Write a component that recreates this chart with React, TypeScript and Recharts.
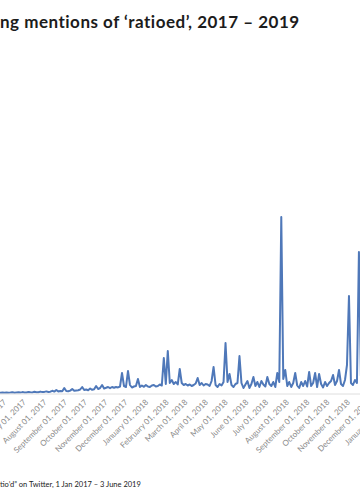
/**
 * Ratioed mentions — daily-ish line of tweets mentioning "ratio'd",
 * cropped view (the frame only shows mid-2017 to late 2018).
 */

import { Line, LineChart, XAxis, YAxis } from "recharts";

// ── Data ────────────────────────────────────────────────────────────────────
const rangeStart = "2017-01-01";
const rangeEnd = "2019-06-03";

// first point of the series and spacing between samples (days)
const seriesStart = "2017-05-19";
const stepDays = 3;

// mentions per sample
const mentions = [
  12, 14, 11, 13, 15, 12, 16, 13, 14, 18,
  13, 15, 17, 14, 19, 16, 15, 20, 17, 16,
  22, 18, 17, 24, 19, 21, 26, 20, 23, 32,
  24, 40, 26, 30, 28, 60, 30, 28, 34, 50,
  32, 35, 38, 45, 70, 40, 45, 38, 55, 42,
  48, 80, 50, 60, 90, 55, 62, 70, 58, 70,
  62, 70, 66, 75, 210, 80, 70, 230, 90, 65,
  75, 80, 150, 70, 85, 72, 90, 75, 70, 85,
  90, 75, 80, 95, 85, 360, 100, 430, 110, 140,
  100, 120, 95, 250, 110, 90, 100, 85, 95, 80,
  90, 105, 160, 90, 110, 85, 100, 95, 80, 130,
  270, 90, 70, 100, 85, 120, 510, 120, 200, 90,
  70, 100, 110, 380, 110, 60, 95, 130, 60, 100,
  170, 80, 120, 70, 130, 95, 75, 170, 100, 80,
  120, 70, 210, 120, 1770, 150, 240, 80, 120, 70,
  110, 210, 85, 60, 120, 80, 130, 75, 220, 80,
  110, 210, 70, 200, 100, 65, 120, 80, 110, 130,
  190, 90, 130, 240, 100, 80, 140, 290, 980, 110,
  90, 140, 110, 1420, 180, 120,
];

const tickMonths = [
  "2017-01-01", "2017-02-01", "2017-03-01", "2017-04-01", "2017-05-01", "2017-06-01",
  "2017-07-01", "2017-08-01", "2017-09-01", "2017-10-01", "2017-11-01", "2017-12-01",
  "2018-01-01", "2018-02-01", "2018-03-01", "2018-04-01", "2018-05-01", "2018-06-01",
  "2018-07-01", "2018-08-01", "2018-09-01", "2018-10-01", "2018-11-01", "2018-12-01",
  "2019-01-01", "2019-02-01", "2019-03-01", "2019-04-01", "2019-05-01", "2019-06-01",
];

const titleText = "ng mentions of ‘ratioed’, 2017 – 2019";
const noteText = "tio’d” on Twitter, 1 Jan 2017 – 3 June 2019";

// ── Helpers ─────────────────────────────────────────────────────────────────
const DAY = 86_400_000;
const MONTHS = [
  "January", "February", "March", "April", "May", "June",
  "July", "August", "September", "October", "November", "December",
];

function fmtMonth(ms: number): string {
  const d = new Date(ms);
  const dd = String(d.getUTCDate()).padStart(2, "0");
  return `${MONTHS[d.getUTCMonth()]} ${dd}, ${d.getUTCFullYear()}`;
}

interface Point {
  t: number;
  v: number;
}

const t0 = Date.parse(seriesStart);
const data: Point[] = mentions.map((v, i) => ({ t: t0 + i * stepDays * DAY, v }));
const ticks = tickMonths.map((m) => Date.parse(m));
const xDomain: [number, number] = [Date.parse(rangeStart), Date.parse(rangeEnd)];

function MonthTick(props: any) {
  const { x, y, payload } = props;
  return (
    <text
      x={x}
      y={y}
      dx={2}
      dy={3}
      transform={`rotate(-45 ${x} ${y})`}
      textAnchor="end"
      fontSize={8}
      fontFamily="Lato, 'Open Sans', sans-serif"
      fill="#8a8a8a"
    >
      {fmtMonth(payload.value)}
    </text>
  );
}

export default function App() {
  return (
    <div
      style={{
        position: "fixed",
        left: 0,
        top: 0,
        width: 360,
        height: 500,
        overflow: "hidden",
        background: "#fff",
      }}
    >
      <div
        style={{
          position: "absolute",
          left: 0,
          top: 11,
          whiteSpace: "nowrap",
          fontFamily: "Lato, sans-serif",
          fontWeight: 700,
          fontSize: 17,
          letterSpacing: 0.5,
          color: "#1c1c1c",
        }}
      >
        {titleText}
      </div>

      {/* plot spans Jan 2017 .. Jun 2019, shifted so only the middle shows */}
      <div style={{ position: "absolute", left: -97, top: 0 }}>
        <LineChart
          width={586}
          height={500}
          data={data}
          margin={{ top: 44, right: 0, bottom: 0, left: 0 }}
        >
          <XAxis
            dataKey="t"
            type="number"
            scale="time"
            domain={xDomain}
            ticks={ticks}
            interval={0}
            height={106}
            tickLine={false}
            axisLine={{ stroke: "#dedede" }}
            tick={<MonthTick />}
          />
          <YAxis hide domain={[0, 3500]} />
          <Line
            dataKey="v"
            type="linear"
            stroke="#4f78b9"
            strokeWidth={2}
            strokeLinejoin="round"
            dot={false}
            activeDot={false}
            isAnimationActive={false}
          />
        </LineChart>
      </div>

      <div
        style={{
          position: "absolute",
          left: 0,
          top: 480,
          whiteSpace: "nowrap",
          fontFamily: "Lato, sans-serif",
          fontSize: 7.5,
          color: "#222",
        }}
      >
        {noteText}
      </div>
    </div>
  );
}
